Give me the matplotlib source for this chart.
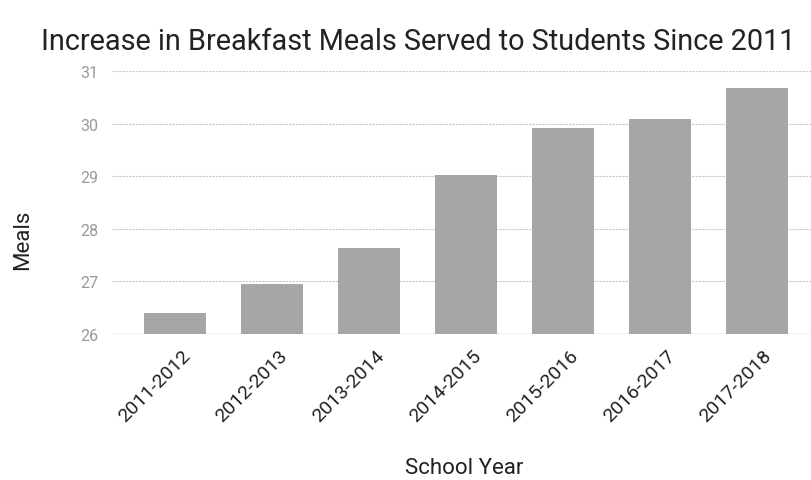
import matplotlib
matplotlib.use("Agg")
import matplotlib.pyplot as plt
from matplotlib.transforms import ScaledTranslation

plt.rcParams['font.family'] = ['Roboto', 'DejaVu Sans']

# data
years = ["2011-2012", "2012-2013", "2013-2014", "2014-2015",
         "2015-2016", "2016-2017", "2017-2018"]
meals = [26.4, 26.95, 27.64, 29.02, 29.92, 30.08, 30.68]
yticks = [26, 27, 28, 29, 30, 31]

W, H = 812, 481
fig = plt.figure(figsize=(W / 100, H / 100), dpi=100)
ax = fig.add_axes([112 / W, 1 - 335 / H, 1 - 112 / W, (335 - 72) / H])

x = range(len(years))
ax.bar(x, meals, width=0.64, color='#a6a6a6', zorder=2)

ax.set_ylim(26, 31)
ax.set_xlim(-0.65, 6.57)
ax.set_yticks(yticks)
ax.set_yticklabels([str(t) for t in yticks], color='#999999', fontsize=11.5)
ax.tick_params(axis='y', length=0, pad=10)
ax.set_xticks(list(x))
ax.set_xticklabels(years, rotation=45, ha='right', rotation_mode='anchor',
                   fontsize=14, color='#222222')
ax.tick_params(axis='x', length=0, pad=9)
# nudge the rotated labels a little to the right, like the reference
shift = ScaledTranslation(6 / 100, 0, fig.dpi_scale_trans)
for lab in ax.get_xticklabels():
    lab.set_transform(lab.get_transform() + shift)

ax.grid(axis='y', color='#c8c8c8', lw=0.8, ls=(0, (2, 1)), zorder=0)
ax.axhline(26, color='#a0a0a0', lw=0.9, zorder=1)
for s in ax.spines.values():
    s.set_visible(False)

# axis titles and chart title placed as in the reference
fig.text(23 / W, 1 - 240 / H, "Meals", rotation=90, fontsize=16,
         color='#222222', ha='center', va='center')
fig.text(464 / W, 1 - 474 / H, "School Year", fontsize=16,
         color='#222222', ha='center', va='baseline')
fig.text(41 / W, 1 - 50 / H, "Increase in Breakfast Meals Served to Students Since 2011",
         fontsize=20.8, color='#222222', ha='left', va='baseline')

fig.savefig("out.png", dpi=100)
